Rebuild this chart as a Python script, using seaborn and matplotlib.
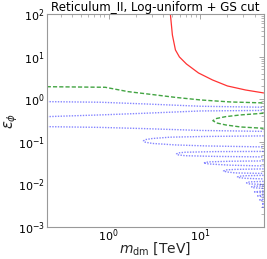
import matplotlib
matplotlib.use("Agg")
import matplotlib.pyplot as plt
import seaborn as sns
import pandas as pd
import numpy as np

# ---- data (m_dm in TeV, epsilon_phi) ----
red_m = [4.76, 5.01, 5.41, 5.98, 7.14, 9.68, 13.8, 20.1, 31.8, 50.0]
red_eps = [100, 32.1, 14.3, 9.8, 6.7, 4.12, 2.82, 2.04, 1.64, 1.40]

green1_m = [0.21, 0.92, 1.64, 2.87, 5.41, 10.2, 21.7, 50.0]
green1_eps = [1.96, 1.90, 1.50, 1.30, 1.10, 0.957, 0.859, 0.815]

green2_m = [50.0, 28.0, 19.2, 15.3, 13.9, 15.3, 19.2, 28.0, 50.0]
green2_eps = [0.467, 0.426, 0.388, 0.352, 0.313, 0.276, 0.248, 0.222, 0.207]

blueA_m = [0.21, 0.811, 2.53, 10.2, 50.0]
blueA_eps = [0.874, 0.846, 0.771, 0.681, 0.645]
blueB_m = [0.21, 0.811, 2.53, 10.2, 50.0]
blueB_eps = [0.388, 0.426, 0.467, 0.528, 0.543]
blueC_m = [0.21, 0.811, 2.53, 10.2, 50.0]
blueC_eps = [0.226, 0.217, 0.203, 0.184, 0.175]

t1_m = [50.0, 11.6, 4.76, 3.02, 2.53, 2.41, 2.53, 3.02, 5.41, 11.6, 50.0]
t1_eps = [0.137, 0.133, 0.128, 0.119, 0.112, 0.1045, 0.0973, 0.0912, 0.0841, 0.0797, 0.0755]
t2_m = [50.0, 14.9, 6.96, 5.83, 5.55, 5.83, 6.96, 14.9, 50.0]
t2_eps = [0.0592, 0.0586, 0.0567, 0.0546, 0.0517, 0.0490, 0.0469, 0.0452, 0.0440]
t3_m = [50.0, 21.7, 12.5, 11.0, 12.5, 21.7, 50.0]
t3_eps = [0.0354, 0.0348, 0.0336, 0.0318, 0.0301, 0.0281, 0.0270]
t4_m = [50.0, 24.7, 19.7, 18.2, 19.7, 24.7, 50.0]
t4_eps = [0.0230, 0.0224, 0.0218, 0.0206, 0.0195, 0.0185, 0.0180]
t5_m = [50.0, 31.8, 27.3, 25.9, 27.3, 31.8, 50.0]
t5_eps = [0.0162, 0.0159, 0.0155, 0.0149, 0.0143, 0.0138, 0.0134]
t6_m = [50.0, 35.2, 32.6, 35.2, 50.0]
t6_eps = [0.0117, 0.0114, 0.0108, 0.0102, 0.00995]
t7_m = [50.0, 38.9, 37.0, 38.9, 50.0]
t7_eps = [0.00917, 0.00902, 0.00869, 0.00832, 0.00801]
t8_m = [50.0, 39.9, 50.0]
t8_eps = [0.00700, 0.00663, 0.00629]
t9_m = [50.0, 43.1, 50.0]
t9_eps = [0.00564, 0.00534, 0.00506]
t10_m = [50.0, 45.3, 50.0]
t10_eps = [0.00447, 0.00430, 0.00412]
t11_m = [50.0, 47.6, 50.0]
t11_eps = [0.00356, 0.00347, 0.00337]
t12_m = [50.0, 48.6, 50.0]
t12_eps = [0.00294, 0.00287, 0.00279]

title = "Reticulum_II, Log-uniform + GS cut"
xlabel = r"$m_{\rm dm}$ [TeV]"
ylabel = r"$\epsilon_\phi$"

# ---- plot ----
sns.set_style("white")
plt.rcParams['font.family'] = ['DejaVu Sans']
plt.rcParams['mathtext.fontset'] = 'dejavusans'

fig = plt.figure(figsize=(2.67, 2.59), dpi=100)
ax = fig.add_axes([0.175, 0.124, 0.812, 0.822])


def draw(m, eps, color, ls, lw=1.0, alpha=1.0):
    df = pd.DataFrame({"m": m, "eps": eps})
    sns.lineplot(data=df, x="m", y="eps", sort=False, estimator=None,
                 color=color, linestyle=ls, linewidth=lw, alpha=alpha, ax=ax)


draw(red_m, red_eps, "#ff3333", "-", 0.9)
draw(green1_m, green1_eps, "#2e9a2e", (0, (3, 1.5)), 1.0, 0.9)
draw(green2_m, green2_eps, "#2e9a2e", (0, (3, 1.5)), 1.0, 0.9)
blue_curves = [(blueA_m, blueA_eps), (blueB_m, blueB_eps), (blueC_m, blueC_eps),
               (t1_m, t1_eps), (t2_m, t2_eps), (t3_m, t3_eps), (t4_m, t4_eps),
               (t5_m, t5_eps), (t6_m, t6_eps), (t7_m, t7_eps), (t8_m, t8_eps),
               (t9_m, t9_eps), (t10_m, t10_eps), (t11_m, t11_eps), (t12_m, t12_eps)]
for bm, be in blue_curves:
    draw(bm, be, "#3333ff", (0, (1, 1)), 1.0, 0.6)

ax.set_xscale("log")
ax.set_yscale("log")
ax.set_xlim(0.21, 50)
ax.set_ylim(1e-3, 1e2)

ax.set_title(title, fontsize=8.6, pad=2, color="black")
ax.set_xlabel(xlabel, fontsize=10, va="center")
ax.set_ylabel(ylabel, fontsize=10.5, va="center")
ax.xaxis.set_label_coords(0.5, -0.102)
ax.yaxis.set_label_coords(-0.165, 0.5)
ax.tick_params(axis="both", which="both", direction="in", top=True, right=True,
               labelsize=8)
ax.tick_params(axis="x", which="both", pad=0.3)
ax.tick_params(axis="y", which="both", pad=1.5)
ax.tick_params(which="major", length=3.5, width=0.6, color="#999999")
ax.tick_params(which="minor", length=2, width=0.5, color="#999999")
ax.tick_params(labelcolor="black")
for s in ax.spines.values():
    s.set_color("#999999")
    s.set_linewidth(0.8)

fig.savefig("out.png", dpi=100)
